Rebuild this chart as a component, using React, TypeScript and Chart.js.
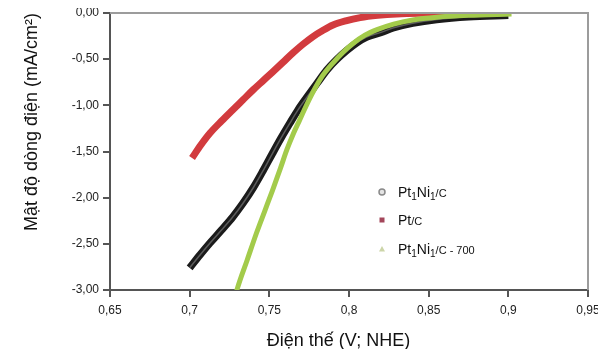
import React, { useEffect, useRef } from 'react';
import { Chart, registerables } from 'chart.js';

Chart.register(...registerables);

const FONT = "'Liberation Sans', Arial, Helvetica, sans-serif";

// Series names (digits before "/" are subscripts)
const seriesNames = ['Pt1Ni1/C', 'Pt/C', 'Pt1Ni1/C - 700'];

// Pt1Ni1/C (black)
const potBlack = [0.700, 0.7065, 0.7128, 0.720, 0.727, 0.7335, 0.740, 0.746, 0.752, 0.7575, 0.763, 0.768, 0.7737, 0.780, 0.786, 0.7925, 0.799, 0.805, 0.811, 0.82, 0.828, 0.84, 0.855, 0.875, 0.9];
const curBlack = [-2.76, -2.62, -2.49, -2.35, -2.21, -2.06, -1.89, -1.71, -1.52, -1.35, -1.19, -1.05, -0.91, -0.76, -0.62, -0.50, -0.40, -0.32, -0.26, -0.21, -0.16, -0.11, -0.07, -0.04, -0.025];

// Pt/C (red)
const potRed = [0.7015, 0.707, 0.7128, 0.72, 0.727, 0.7335, 0.740, 0.746, 0.752, 0.7585, 0.765, 0.771, 0.777, 0.7835, 0.790, 0.798, 0.807, 0.818, 0.83, 0.85, 0.87, 0.89];
const curRed = [-1.57, -1.43, -1.30, -1.17, -1.05, -0.94, -0.83, -0.735, -0.64, -0.535, -0.43, -0.34, -0.26, -0.19, -0.13, -0.085, -0.05, -0.025, -0.01, -0.003, 0, 0];

// Pt1Ni1/C - 700 (green)
const potGreen = [0.7285, 0.730, 0.736, 0.742, 0.747, 0.752, 0.757, 0.761, 0.765, 0.769, 0.773, 0.777, 0.783, 0.790, 0.796, 0.8025, 0.81, 0.8176, 0.828, 0.84, 0.855, 0.875, 0.902];
const curGreen = [-3.08, -2.98, -2.68, -2.38, -2.15, -1.92, -1.68, -1.48, -1.31, -1.16, -1.01, -0.87, -0.69, -0.54, -0.43, -0.33, -0.24, -0.18, -0.12, -0.075, -0.045, -0.025, -0.012];

// Axes
const xMin = 0.65;
const xMax = 0.95;
const xStep = 0.05;
const yMin = -3;
const yMax = 0;
const yStep = 0.5;

const xTitle = 'Điện thế (V; NHE)';
const yTitle = 'Mật độ dòng điện (mA/cm²)';

const toPoints = (xs: number[], ys: number[]) => xs.map((x, i) => ({ x, y: ys[i] }));

type Part = { t: string; k: 'n' | 's' | 'm' };
const parseLabel = (name: string): Part[] => {
  const slash = name.indexOf('/');
  const head = slash >= 0 ? name.slice(0, slash) : name;
  const tail = slash >= 0 ? name.slice(slash) : '';
  const parts: Part[] = [];
  for (const ch of head) {
    const k: Part['k'] = /[0-9]/.test(ch) ? 's' : 'n';
    const last = parts[parts.length - 1];
    if (last && last.k === k) last.t += ch;
    else parts.push({ t: ch, k });
  }
  if (tail) parts.push({ t: tail, k: 'm' });
  return parts;
};

const decoPlugin = {
  id: 'deco',
  afterDraw(chart: any) {
    const { ctx, chartArea } = chart;
    const { left, right, top, bottom } = chartArea;
    ctx.save();
    // frame (top + right)
    ctx.strokeStyle = '#9c9c9c';
    ctx.lineWidth = 2;
    ctx.beginPath();
    ctx.moveTo(left, top);
    ctx.lineTo(right, top);
    ctx.lineTo(right, bottom);
    ctx.stroke();

    // x title
    ctx.fillStyle = '#111';
    ctx.font = `18px ${FONT}`;
    ctx.textAlign = 'center';
    ctx.textBaseline = 'middle';
    ctx.fillText(xTitle, 338.5, 341);

    // legend
    const mx = 382;
    const tx = 398;
    const ys = [192, 220, 249];
    ys.forEach((y, i) => {
      if (i === 0) {
        ctx.beginPath();
        ctx.arc(mx, y, 3, 0, Math.PI * 2);
        ctx.fillStyle = '#e4e4e4';
        ctx.fill();
        ctx.strokeStyle = '#8a8a8a';
        ctx.lineWidth = 1.5;
        ctx.stroke();
      } else if (i === 1) {
        ctx.fillStyle = '#a3465a';
        ctx.fillRect(mx - 2.5, y - 2.5, 5, 5);
      } else {
        ctx.beginPath();
        ctx.moveTo(mx, y - 3);
        ctx.lineTo(mx - 3, y + 2.5);
        ctx.lineTo(mx + 3, y + 2.5);
        ctx.closePath();
        ctx.fillStyle = '#ccd5a8';
        ctx.fill();
      }
      let x = tx;
      ctx.fillStyle = '#111';
      ctx.textAlign = 'left';
      ctx.textBaseline = 'alphabetic';
      for (const p of parseLabel(seriesNames[i])) {
        const size = p.k === 'n' ? 14 : p.k === 's' ? 10 : 11;
        const dy = p.k === 's' ? 8 : 5;
        ctx.font = `${size}px ${FONT}`;
        ctx.fillText(p.t, x, y + dy);
        x += ctx.measureText(p.t).width;
      }
    });
    ctx.restore();
  },
};

export default function App() {
  const ref = useRef<HTMLCanvasElement>(null);
  useEffect(() => {
    if (!ref.current) return;
    const chart = new Chart(ref.current, {
      type: 'scatter',
      data: {
        datasets: [
          {
            label: seriesNames[0],
            data: toPoints(potBlack, curBlack),
            showLine: true,
            borderColor: '#1b1b1b',
            borderWidth: 7.5,
            pointRadius: 0,
            cubicInterpolationMode: 'monotone',
            order: 4,
          },
          {
            label: seriesNames[0] + ' inner',
            data: toPoints(potBlack, curBlack),
            showLine: true,
            borderColor: '#5c5c5c',
            borderWidth: 1.5,
            pointRadius: 0,
            cubicInterpolationMode: 'monotone',
            order: 3,
          },
          {
            label: seriesNames[1],
            data: toPoints(potRed, curRed),
            showLine: true,
            borderColor: '#d23b3e',
            borderWidth: 7,
            pointRadius: 0,
            cubicInterpolationMode: 'monotone',
            order: 2,
          },
          {
            label: seriesNames[2],
            data: toPoints(potGreen, curGreen),
            showLine: true,
            borderColor: '#a3cb4b',
            borderWidth: 5,
            pointRadius: 0,
            cubicInterpolationMode: 'monotone',
            clip: 0,
            order: 1,
          },
        ],
      },
      options: {
        animation: false,
        responsive: false,
        layout: { padding: { top: 13, right: 18, left: 0, bottom: 0 } },
        plugins: {
          legend: { display: false },
          tooltip: { enabled: false },
        },
        scales: {
          x: {
            type: 'linear',
            min: xMin,
            max: xMax,
            afterFit: (s: any) => { s.height = 59; s.paddingLeft = 0; s.paddingRight = 0; },
            ticks: {
              stepSize: xStep,
              padding: 6,
              color: '#222',
              font: { family: FONT, size: 12 },
              maxRotation: 0,
              callback: (v: any) => {
                const s = Number(v).toFixed(2).replace(/0$/, '');
                return s.replace('.', ',');
              },
            },
            grid: { drawOnChartArea: false, drawTicks: true, tickLength: 7, tickColor: '#555', lineWidth: 2 },
            border: { display: true, color: '#555', width: 2 },
            title: { display: false },
          },
          y: {
            type: 'linear',
            min: yMin,
            max: yMax,
            afterFit: (s: any) => { s.width = 110; s.paddingTop = 0; s.paddingBottom = 0; },
            ticks: {
              stepSize: yStep,
              padding: 4,
              color: '#222',
              font: { family: FONT, size: 12 },
              callback: (v: any) => Number(v).toFixed(2).replace('.', ',').replace(/^-0,00$/, '0,00'),
            },
            grid: { drawOnChartArea: false, drawTicks: true, tickLength: 7, tickColor: '#555', lineWidth: 2 },
            border: { display: true, color: '#555', width: 2 },
            title: {
              display: true,
              text: yTitle,
              align: 'end',
              color: '#111',
              font: { family: FONT, size: 18 },
              padding: { top: 21, bottom: 0 },
            },
          },
        },
      },
      plugins: [decoPlugin],
    } as any);
    return () => chart.destroy();
  }, []);
  return (
    <div style={{ width: 606, height: 349, marginTop: -8, marginLeft: -8 }}>
      <canvas ref={ref} width={606} height={349} />
    </div>
  );
}
